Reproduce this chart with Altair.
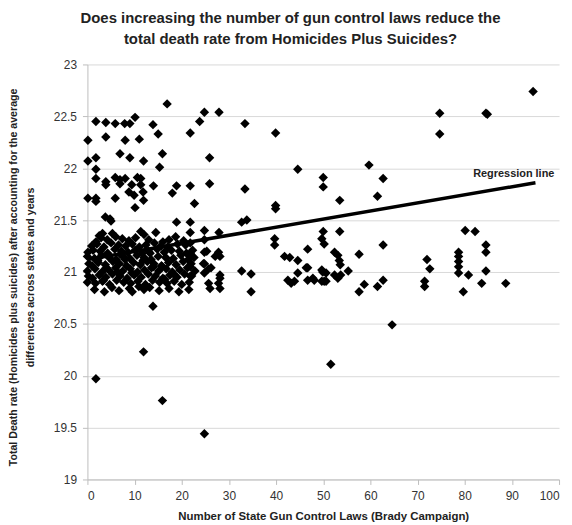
import altair as alt
import pandas as pd

# ---- dense cluster (0-23 laws) ----
cluster_laws = [
    2.5, 3.2, 5.3, 11.3, 12.0, 14.5,
    1.8, 2.9, 4.2, 6.0, 7.4, 8.8, 10.2, 13.0, 16.0, 17.3, 18.7, 20.4,
    0.9, 2.0, 3.5, 5.0, 6.6, 8.1, 9.5, 11.0, 12.4, 14.2, 15.6, 17.0, 19.1, 20.8,
    0.1, 1.2, 2.7, 4.3, 5.8, 7.2, 8.6, 10.1, 11.6, 13.0, 14.8, 16.3, 17.8, 19.5, 21.0, 22.3,
    0.0, 1.5, 3.0, 4.6, 6.1, 7.6, 9.0, 10.5, 12.0, 13.5, 15.0, 16.6, 18.2, 19.8, 21.4, 22.6,
    0.3, 1.0, 2.3, 3.8, 5.4, 6.8, 8.3, 9.8, 11.2, 12.7, 14.1, 15.7, 17.2, 18.8, 20.3, 22.0,
    0.0, 1.6, 3.1, 4.5, 6.0, 7.5, 9.1, 10.6, 12.1, 13.6, 15.1, 16.7, 18.0, 19.6, 21.2, 22.8,
    0.2, 1.1, 2.5, 3.9, 5.3, 6.9, 8.4, 9.9, 11.4, 12.9, 14.4, 16.0, 17.5, 19.0, 20.6, 22.1,
    0.0, 1.7, 3.2, 4.7, 6.2, 7.7, 9.2, 10.7, 12.3, 13.8, 15.3, 16.9, 18.4, 20.0, 21.6,
    1.5, 3.6, 5.2, 6.7, 8.9, 9.5, 12.0, 13.2, 15.2, 17.3, 19.4, 21.5,
    2.2, 4.0, 7.0, 9.4, 11.8, 14.0, 16.4, 3.4, 6.4, 8.0, 10.9, 13.3, 15.9, 18.5,
]
cluster_rate = [
    21.35, 21.37, 21.37, 21.39, 21.36, 21.38,
    21.29, 21.33, 21.31, 21.34, 21.32, 21.30, 21.33, 21.31, 21.29, 21.31, 21.34, 21.30,
    21.25, 21.27, 21.24, 21.28, 21.26, 21.25, 21.27, 21.24, 21.26, 21.28, 21.25, 21.24, 21.27, 21.26,
    21.19, 21.21, 21.20, 21.18, 21.22, 21.20, 21.19, 21.21, 21.18, 21.20, 21.22, 21.19, 21.21, 21.20, 21.18, 21.21,
    21.15, 21.13, 21.16, 21.14, 21.12, 21.15, 21.13, 21.16, 21.14, 21.12, 21.15, 21.14, 21.13, 21.16, 21.12, 21.14,
    21.08, 21.06, 21.09, 21.07, 21.10, 21.08, 21.06, 21.09, 21.07, 21.10, 21.08, 21.06, 21.09, 21.07, 21.10, 21.08,
    21.01, 21.03, 21.00, 21.02, 21.04, 21.01, 21.03, 21.00, 21.02, 21.04, 21.01, 21.03, 21.00, 21.02, 21.04, 21.01,
    20.96, 20.94, 20.97, 20.95, 20.98, 20.96, 20.94, 20.97, 20.95, 20.98, 20.96, 20.94, 20.97, 20.95, 20.98, 20.96,
    20.90, 20.89, 20.91, 20.88, 20.92, 20.90, 20.89, 20.91, 20.88, 20.92, 20.90, 20.89, 20.91, 20.88, 20.90,
    20.83, 20.81, 20.85, 20.82, 20.84, 20.81, 20.83, 20.85, 20.82, 20.84, 20.81, 20.83,
    21.11, 21.04, 21.17, 20.99, 21.11, 21.05, 20.93, 20.92, 21.00, 21.12, 20.86, 21.18, 21.05, 20.97,
]

# ---- upper left group ----
upper_laws = [1.8, 3.9, 5.9, 7.9, 9.0, 10.1, 13.9, 15.0, 0.1, 3.9, 8.0, 11.0, 16.9,
              6.9, 9.0, 0.1, 1.8, 1.8, 11.9, 15.9, 15.3,
              1.8, 3.9, 3.9, 5.9, 6.9, 8.0, 6.9, 10.6, 11.3, 9.4, 11.3, 14.0,
              8.8, 9.9, 11.8, 11.9, 0.1, 1.8, 1.8, 5.9, 10.1,
              3.8, 4.8, 5.0]
upper_rate = [22.45, 22.44, 22.43, 22.43, 22.43, 22.49, 22.42, 22.33, 22.27, 22.30, 22.27, 22.28, 22.62,
              22.14, 22.10, 22.07, 22.10, 21.99, 22.07, 22.14, 22.01,
              21.90, 21.87, 21.84, 21.91, 21.89, 21.90, 21.85, 21.91, 21.90, 21.84, 21.84, 21.83,
              21.77, 21.74, 21.77, 21.69, 21.71, 21.71, 21.68, 21.71, 21.62,
              21.53, 21.51, 21.49]

# ---- middle group (17-40 laws) ----
mid_laws = [24.8, 27.9, 23.8, 21.8, 33.4, 39.9, 25.9, 18.9, 18.0, 21.8, 25.9, 33.4, 22.7,
            39.9, 39.9, 18.9, 21.8, 32.7, 33.8, 21.8, 24.8, 27.9, 39.7, 39.7,
            24.8, 24.8, 24.8, 24.8, 25.7, 26.0, 27.8, 28.1, 27.1, 28.1, 27.8, 28.1,
            21.8, 32.7, 34.7, 34.7, 21.8, 21.8, 21.8, 25.3, 26.2, 28.1, 25.7, 24.6,
            13.9, 11.9, 1.8, 15.9, 24.8]
mid_rate = [22.54, 22.54, 22.45, 22.34, 22.43, 22.34, 22.10, 21.83, 21.76, 21.83, 21.85, 21.80, 21.66,
            21.64, 21.61, 21.48, 21.48, 21.48, 21.50, 21.38, 21.40, 21.38, 21.32, 21.26,
            21.31, 21.19, 21.08, 20.99, 20.89, 20.84, 21.19, 21.15, 21.15, 20.97, 20.89, 20.84,
            21.18, 21.01, 20.98, 20.81, 21.28, 21.05, 20.96, 21.20, 21.04, 20.94, 21.03, 21.08,
            20.67, 20.23, 19.97, 19.76, 19.44]

# ---- right group (40-95 laws) ----
right_laws = [44.6, 50.0, 50.0, 59.7, 62.7, 61.5, 53.5, 94.5, 74.7, 74.7, 84.5, 84.8,
              50.0, 50.2, 49.7, 53.5, 46.7, 62.7, 80.1, 82.2, 84.5, 84.5, 57.6, 78.7, 72.0,
              41.8, 42.9, 44.6, 44.6, 46.7, 42.5, 43.2, 43.9, 46.7, 48.1, 49.9, 50.2,
              52.4, 53.1, 53.4, 53.6, 49.7, 50.6, 49.7, 50.6, 52.4, 53.1, 53.7, 55.3,
              62.7, 61.5, 58.7, 57.6, 64.6, 51.6,
              78.7, 78.7, 78.7, 78.7, 80.8, 84.5, 83.6, 79.7, 88.7, 72.6, 71.5, 71.5,
              46.4, 47.8]
right_rate = [21.99, 21.91, 21.82, 22.03, 21.90, 21.73, 21.69, 22.74, 22.53, 22.33, 22.53, 22.52,
              21.39, 21.27, 21.32, 21.39, 21.22, 21.26, 21.40, 21.39, 21.26, 21.19, 21.17, 21.19, 21.12,
              21.15, 21.14, 21.11, 20.99, 21.04, 20.92, 20.89, 20.91, 20.92, 20.92, 21.00, 20.91,
              21.19, 21.16, 21.11, 21.07, 21.02, 20.99, 20.91, 20.91, 20.97, 20.94, 20.97, 21.01,
              20.92, 20.86, 20.88, 20.81, 20.49, 20.11,
              21.15, 21.10, 21.05, 20.99, 20.97, 21.01, 20.89, 20.81, 20.89, 21.03, 20.91, 20.86,
              21.04, 20.94]

# ---- regression line ----
reg_laws = [0, 95]
reg_rate = [21.12, 21.86]

label_laws = [90.4]
label_rate = [21.94]
label_text = ["Regression line"]

points = pd.DataFrame({
    "laws": cluster_laws + upper_laws + mid_laws + right_laws,
    "rate": cluster_rate + upper_rate + mid_rate + right_rate,
})
reg = pd.DataFrame({"laws": reg_laws, "rate": reg_rate})
lab = pd.DataFrame({"laws": label_laws, "rate": label_rate, "t": label_text})

FONT = "Liberation Sans"

xscale = alt.Scale(domain=[0, 100], nice=False, zero=False)
yscale = alt.Scale(domain=[19, 23], nice=False, zero=False)

xaxis = alt.Axis(
    title="Number of State Gun Control Laws (Brady Campaign)",
    values=list(range(0, 101, 10)), grid=False,
    domainColor="#bdbdbd", tickColor="#bdbdbd", tickSize=5,
    labelFont=FONT, labelFontSize=12, labelColor="#333333", labelPadding=6,
    titleFont=FONT, titleFontSize=11.5, titleFontWeight="bold", titleColor="#222222",
    titlePadding=9,
)
yaxis = alt.Axis(
    title=["Total Death rate (Homicides plus suicides) after accounting for the average",
           "differences across states and years"],
    values=[19, 19.5, 20, 20.5, 21, 21.5, 22, 22.5, 23],
    format=".1~f",
    grid=True, gridColor="#d9d9d9",
    domainColor="#bdbdbd", tickColor="#bdbdbd", tickSize=5,
    labelFont=FONT, labelFontSize=12, labelColor="#333333", labelPadding=6,
    titleFont=FONT, titleFontSize=10.7, titleFontWeight="bold", titleColor="#222222",
    titleLineHeight=17, titlePadding=18, titleY=214, titleAlign="center",
)

pts = alt.Chart(points).mark_point(
    shape="diamond", filled=True, color="#000000", size=90, opacity=1
).encode(
    x=alt.X("laws:Q", scale=xscale, axis=xaxis),
    y=alt.Y("rate:Q", scale=yscale, axis=yaxis),
)

line = alt.Chart(reg).mark_line(color="#000000", strokeWidth=3.5).encode(
    x=alt.X("laws:Q", scale=xscale),
    y=alt.Y("rate:Q", scale=yscale),
)

text = alt.Chart(lab).mark_text(
    font=FONT, fontSize=11, fontWeight="bold", color="#222222"
).encode(
    x=alt.X("laws:Q", scale=xscale),
    y=alt.Y("rate:Q", scale=yscale),
    text="t:N",
)

chart = alt.layer(pts, line, text).properties(
    width=475, height=418,
    padding={"left": 80, "top": 55, "right": 5, "bottom": 43},
    autosize=alt.AutoSizeParams(type="none"),
    title=alt.TitleParams(
        text=["Does increasing the number of gun control laws reduce the",
              "total death rate from Homicides Plus Suicides?"],
        font=FONT, fontSize=15, fontWeight="bold", color="#222222",
        anchor="middle", frame="group", dx=-33, offset=12, lineHeight=21,
    ),
).configure_view(stroke=None)

chart.save("out.html", embed_options={"renderer": "svg", "actions": False})
